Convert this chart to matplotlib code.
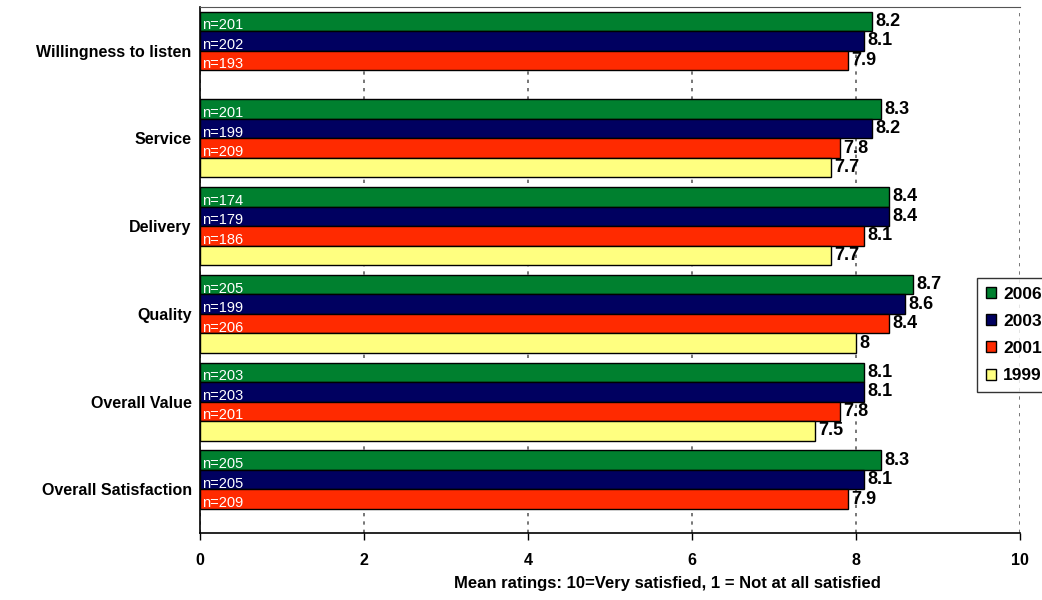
import numpy as np
import matplotlib
matplotlib.use("Agg")
import matplotlib.pyplot as plt
from matplotlib.patches import Patch

plt.rcParams['font.family'] = ['Liberation Sans', 'DejaVu Sans']

categories = ["Willingness to listen", "Service", "Delivery", "Quality",
              "Overall Value", "Overall Satisfaction"]
years = ["2006", "2003", "2001", "1999"]
colors = ["#00802F", "#000060", "#FF2A00", "#FFFF80"]

# Mean ratings per year (None = not asked that year)
ratings_2006 = [8.2, 8.3, 8.4, 8.7, 8.1, 8.3]
ratings_2003 = [8.1, 8.2, 8.4, 8.6, 8.1, 8.1]
ratings_2001 = [7.9, 7.8, 8.1, 8.4, 7.8, 7.9]
ratings_1999 = [None, 7.7, 7.7, 8.0, 7.5, None]

# Sample sizes shown inside the bars
n_2006 = [201, 201, 174, 205, 203, 205]
n_2003 = [202, 199, 179, 199, 203, 205]
n_2001 = [193, 209, 186, 206, 201, 209]

series = [ratings_2006, ratings_2003, ratings_2001, ratings_1999]
samples = [n_2006, n_2003, n_2001, None]

fig = plt.figure(figsize=(10.42, 6.0), dpi=100)
ax = fig.add_axes([200 / 1042, 1 - 533.3 / 600, 820 / 1042, 526.6 / 600])

bar_h = 0.889 / 4
y_pos = np.arange(len(categories))

for j, (vals, col) in enumerate(zip(series, colors)):
    for i, v in enumerate(vals):
        if v is None:
            continue
        yc = i + (-1.5 + j) * bar_h
        ax.barh(yc, v, height=bar_h, color=col, edgecolor="black",
                linewidth=1, zorder=3)
        label = f"{v:g}"
        ax.text(v + 0.04, yc, label, ha="left", va="center",
                fontsize=13, fontweight="bold", color="black", zorder=5)
        if samples[j] is not None:
            ax.text(0.03, yc + 0.045, f"n={samples[j][i]}", ha="left",
                    va="center", fontsize=10.5, color="white", zorder=5)

ax.set_xlim(0, 10)
ax.set_ylim(len(categories) - 0.5, -0.5)
ax.set_xticks(np.arange(0, 11, 2))
ax.set_xticklabels([str(t) for t in range(0, 11, 2)], fontsize=11.5,
                   fontweight="bold")
ax.set_yticks(y_pos)
ax.set_yticklabels(categories, fontsize=11.5, fontweight="bold")
ax.tick_params(axis="y", length=0, pad=6)
ax.tick_params(axis="x", length=5, width=1, pad=9, direction="out")

ax.xaxis.grid(True, linestyle=(0, (2, 3)), color="#606060", linewidth=1.2,
              zorder=0)
ax.set_axisbelow(True)

ax.spines["right"].set_visible(False)
ax.spines["top"].set_color("#555555")
ax.spines["left"].set_color("black")
ax.spines["bottom"].set_color("black")
ax.spines["left"].set_linewidth(1.2)
ax.spines["bottom"].set_linewidth(1.2)

ax.set_xlabel("Mean ratings: 10=Very satisfied, 1 = Not at all satisfied",
              fontsize=12, fontweight="bold")
ax.xaxis.set_label_coords((667 - 200) / 820, -0.081)

handles = [Patch(facecolor=c, edgecolor="black", linewidth=1) for c in colors]
leg = fig.legend(handles, years, loc="upper left",
                 bbox_to_anchor=(977 / 1042, 1 - 278 / 600),
                 prop={"size": 12.5, "weight": "bold"},
                 frameon=True, fancybox=False, shadow=False,
                 handlelength=0.6, handleheight=0.6, handletextpad=0.4,
                 labelspacing=0.7, borderpad=0.5, borderaxespad=0)
leg.get_frame().set_edgecolor("black")
leg.get_frame().set_linewidth(1)

fig.savefig("out.png", dpi=100)
